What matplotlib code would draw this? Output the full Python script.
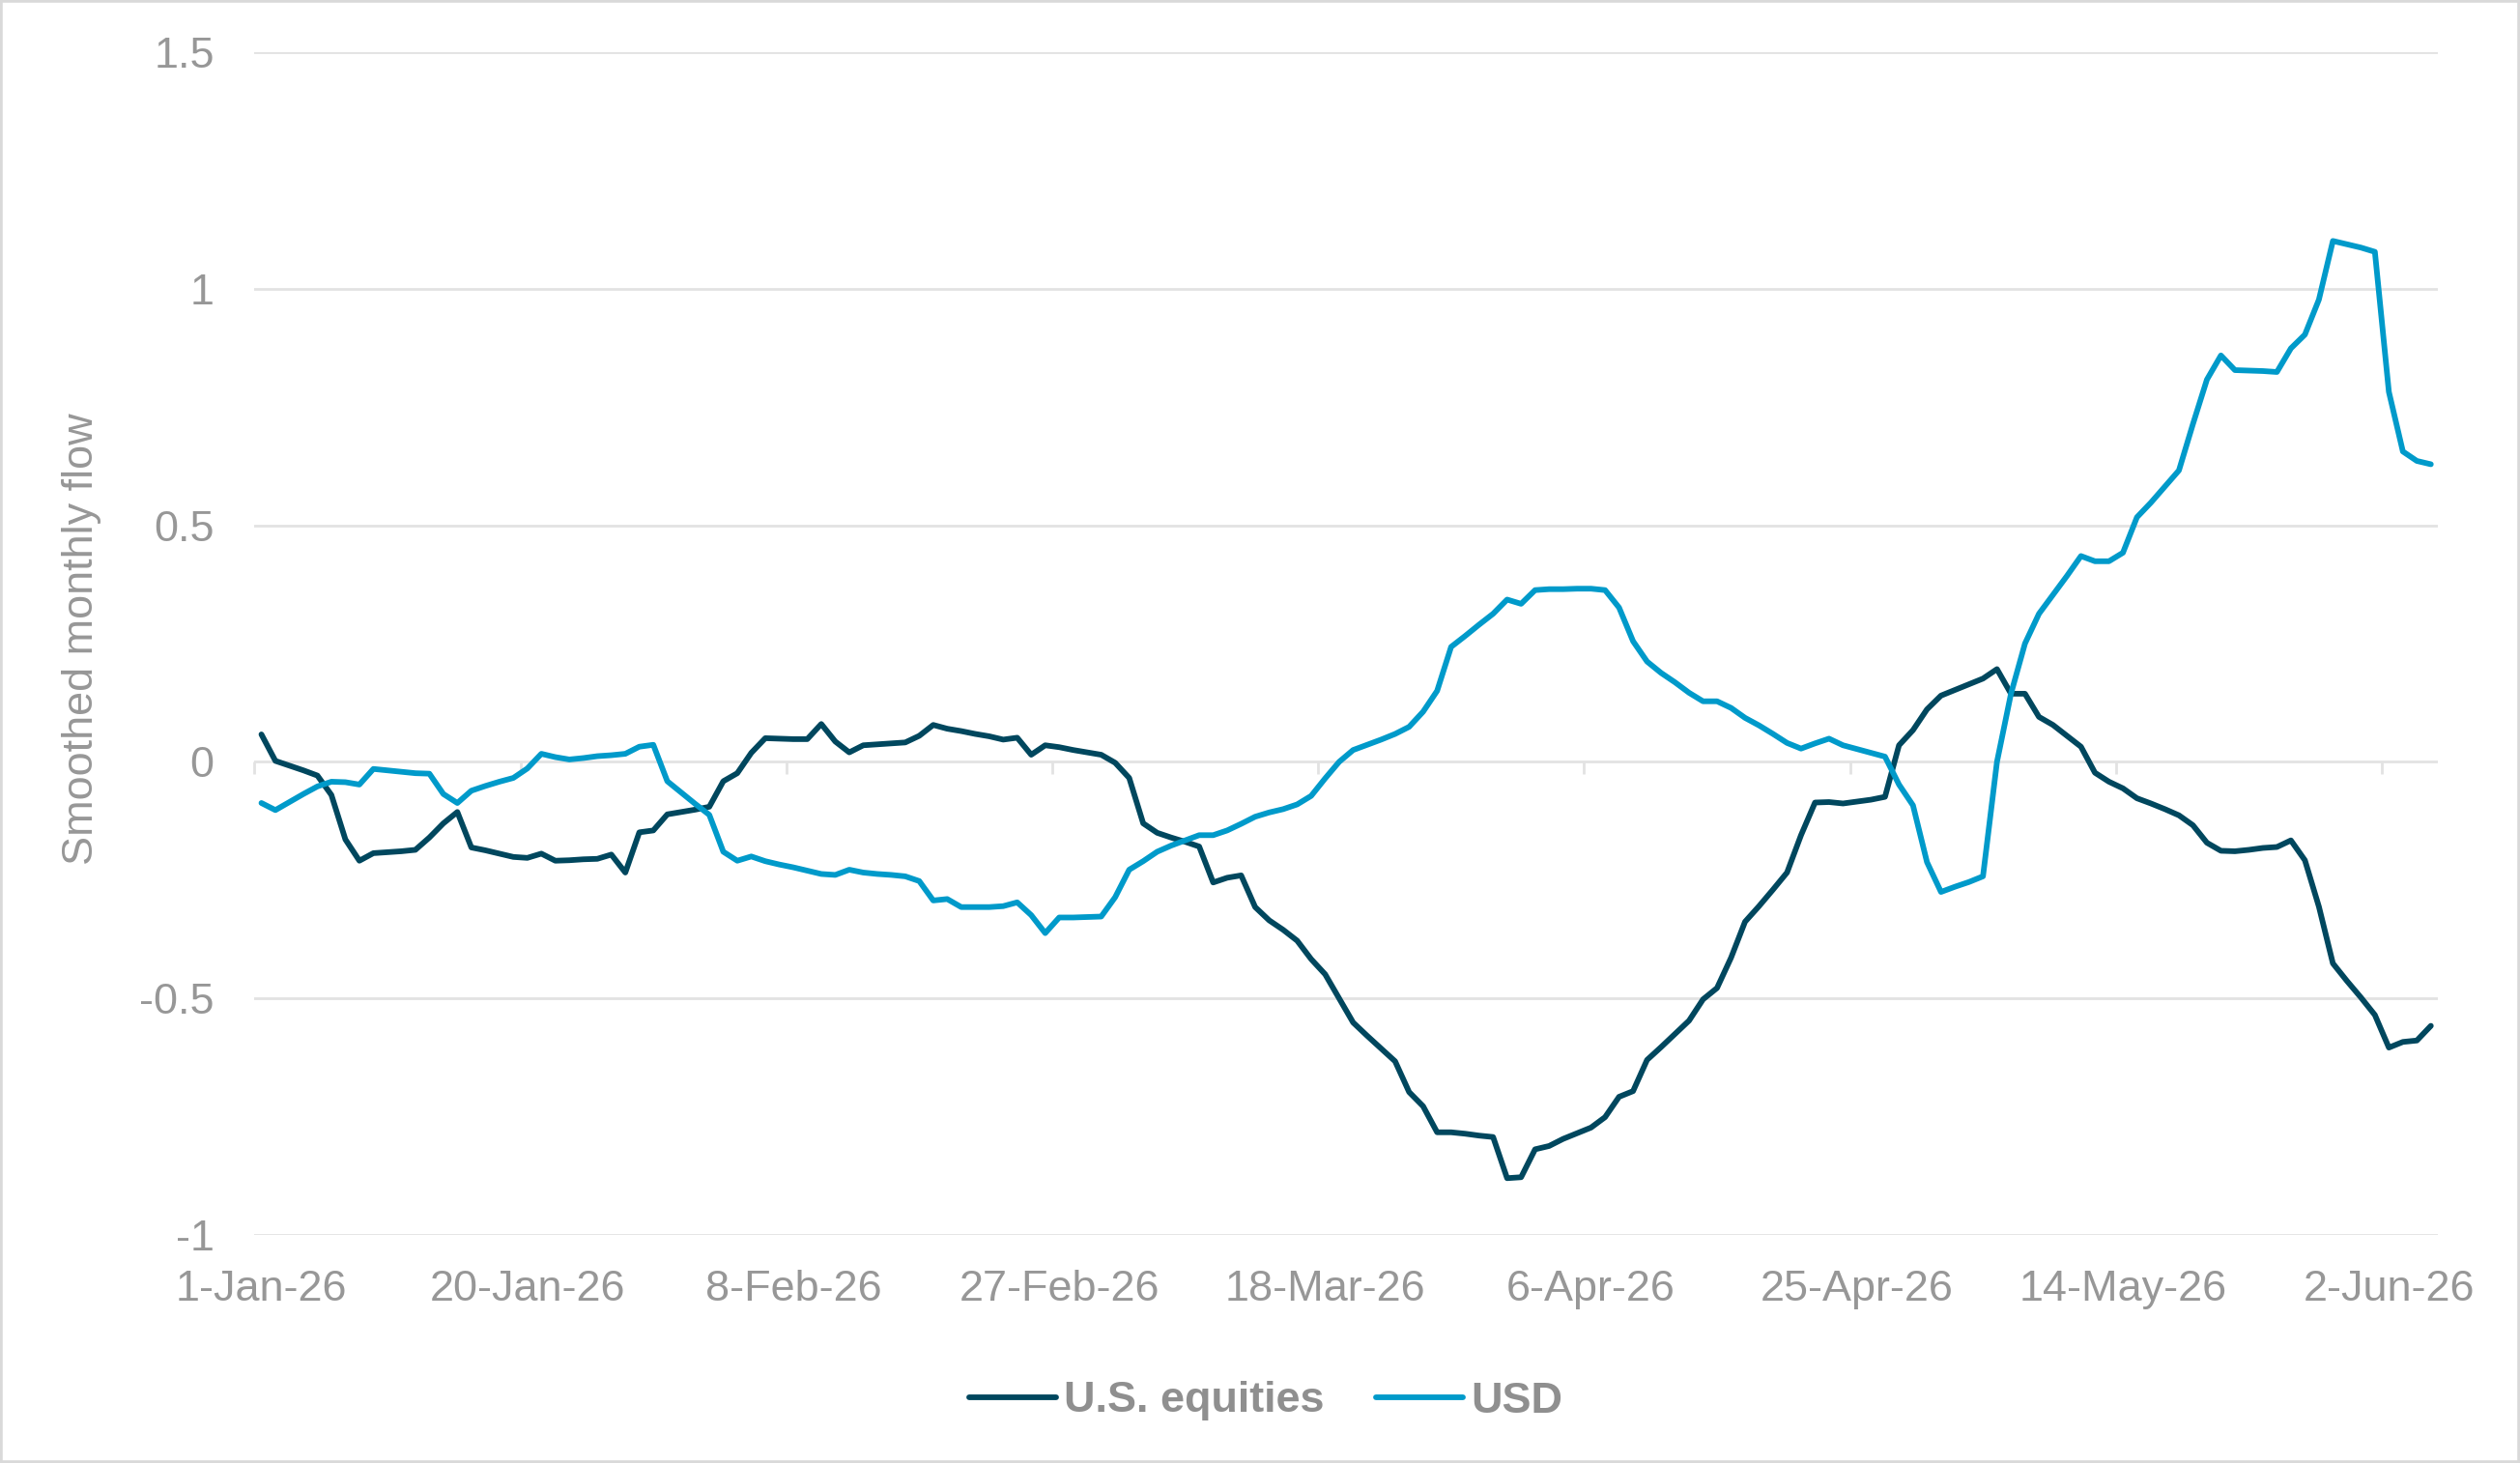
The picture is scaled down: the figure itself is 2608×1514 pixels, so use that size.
import numpy as np
import pandas as pd
import matplotlib
matplotlib.use("Agg")
import matplotlib.pyplot as plt
import matplotlib.dates as mdates
from matplotlib.patches import Rectangle
from matplotlib.lines import Line2D

# ---------------- data ----------------
start_date = "2026-01-01"
end_date = "2026-06-05"

us_equities = [
    0.058, 0.002, -0.008, -0.018, -0.029, -0.070, -0.164, -0.209, -0.193, -0.191,
    -0.189, -0.186, -0.160, -0.130, -0.106, -0.181, -0.187, -0.194, -0.201, -0.203,
    -0.194, -0.209, -0.208, -0.206, -0.205, -0.196, -0.234, -0.149, -0.145, -0.111,
    -0.106, -0.101, -0.095, -0.041, -0.024, 0.019, 0.050, 0.049, 0.048, 0.048,
    0.080, 0.043, 0.020, 0.035, 0.037, 0.039, 0.041, 0.055, 0.078, 0.070,
    0.065, 0.059, 0.054, 0.047, 0.051, 0.015, 0.035, 0.031, 0.025, 0.020,
    0.015, -0.002, -0.034, -0.130, -0.150, -0.160, -0.169, -0.179, -0.255, -0.245,
    -0.240, -0.307, -0.335, -0.355, -0.378, -0.417, -0.449, -0.500, -0.551, -0.579,
    -0.606, -0.633, -0.698, -0.728, -0.783, -0.783, -0.786, -0.790, -0.793, -0.880,
    -0.878, -0.819, -0.812, -0.797, -0.785, -0.773, -0.751, -0.708, -0.696, -0.630,
    -0.603, -0.575, -0.547, -0.502, -0.478, -0.414, -0.338, -0.305, -0.270, -0.234,
    -0.155, -0.086, -0.085, -0.088, -0.084, -0.080, -0.074, 0.035, 0.067, 0.111,
    0.140, 0.152, 0.164, 0.176, 0.196, 0.144, 0.144, 0.095, 0.078, 0.055,
    0.032, -0.023, -0.042, -0.056, -0.077, -0.088, -0.100, -0.113, -0.134, -0.171,
    -0.188, -0.189, -0.186, -0.182, -0.180, -0.166, -0.208, -0.306, -0.426, -0.463,
    -0.498, -0.535, -0.604, -0.592, -0.589, -0.558,
]

usd = [
    -0.087, -0.102, -0.085, -0.068, -0.052, -0.042, -0.043, -0.048, -0.015, -0.018,
    -0.021, -0.024, -0.025, -0.068, -0.087, -0.061, -0.051, -0.042, -0.034, -0.014,
    0.017, 0.010, 0.005, 0.008, 0.012, 0.014, 0.017, 0.032, 0.036, -0.041,
    -0.065, -0.089, -0.112, -0.190, -0.209, -0.200, -0.210, -0.217, -0.223, -0.230,
    -0.237, -0.239, -0.228, -0.234, -0.237, -0.239, -0.242, -0.252, -0.293, -0.290,
    -0.307, -0.307, -0.307, -0.305, -0.297, -0.324, -0.362, -0.329, -0.329, -0.328,
    -0.327, -0.286, -0.228, -0.210, -0.190, -0.177, -0.166, -0.155, -0.155, -0.145,
    -0.131, -0.116, -0.107, -0.100, -0.090, -0.072, -0.035, 0.000, 0.025, 0.036,
    0.047, 0.059, 0.074, 0.106, 0.150, 0.243, 0.266, 0.290, 0.313, 0.343,
    0.334, 0.363, 0.365, 0.365, 0.366, 0.366, 0.363, 0.326, 0.255, 0.212,
    0.188, 0.168, 0.146, 0.128, 0.128, 0.114, 0.093, 0.077, 0.059, 0.040,
    0.028, 0.039, 0.049, 0.035, 0.027, 0.019, 0.011, -0.048, -0.092, -0.212,
    -0.275, -0.264, -0.254, -0.242, 0.000, 0.144, 0.250, 0.313, 0.353, 0.393,
    0.435, 0.424, 0.424, 0.442, 0.517, 0.548, 0.582, 0.616, 0.714, 0.808,
    0.859, 0.828, 0.827, 0.826, 0.824, 0.874, 0.903, 0.977, 1.101, 1.094,
    1.087, 1.078, 0.782, 0.656, 0.636, 0.629,
]

series_names = ["U.S. equities", "USD"]
x_tick_labels = ["1-Jan-26", "20-Jan-26", "8-Feb-26", "27-Feb-26", "18-Mar-26",
                 "6-Apr-26", "25-Apr-26", "14-May-26", "2-Jun-26"]
y_ticks = [-1, -0.5, 0, 0.5, 1, 1.5]
y_tick_labels = ["-1", "-0.5", "0", "0.5", "1", "1.5"]
y_label = "Smoothed monthly flow"

# ---------------- style ----------------
W, H, DPI = 2608, 1514, 100
FONT = ["Liberation Sans", "Arial", "DejaVu Sans"]
TXT = "#979797"
GRID = "#e2e2e2"
C_EQ = "#00475E"
C_USD = "#009ACA"
FS = 32.4
LW = 4.2

plt.rcParams["font.family"] = FONT

dates = pd.date_range(start_date, end_date, freq="D")
x = mdates.date2num(dates.to_pydatetime())
label_pos = mdates.date2num(pd.to_datetime(x_tick_labels, format="%d-%b-%y").to_pydatetime())
tick_marks = label_pos - 0.5

fig = plt.figure(figsize=(W / DPI, H / DPI), dpi=DPI)
ax = fig.add_axes([263.3 / W, 1 - 1278 / H, (2523 - 263.3) / W, (1278 - 54) / H])

ax.plot(x, us_equities, color=C_EQ, lw=LW, solid_joinstyle="round",
        solid_capstyle="round", label=series_names[0], zorder=3)
ax.plot(x, usd, color=C_USD, lw=LW, solid_joinstyle="round",
        solid_capstyle="round", label=series_names[1], zorder=4)

ax.set_xlim(x[0] - 0.5, x[-1] + 0.5)
ax.set_ylim(-1, 1.5)
ax.set_yticks(y_ticks)
ax.set_yticklabels(y_tick_labels)
ax.set_xticks(label_pos)
ax.set_xticklabels(x_tick_labels)
ax.tick_params(axis="x", length=0, pad=26, labelsize=FS, labelcolor=TXT)
ax.tick_params(axis="y", length=0, pad=30, labelsize=FS, labelcolor=TXT)
ax.yaxis.grid(True, color=GRID, lw=2.0, zorder=0)
ax.xaxis.grid(False)
ax.set_axisbelow(True)
for s in ax.spines.values():
    s.set_visible(False)

# category axis crossing at zero with tick marks between date slots
zero_frac = (0 - (-1)) / (1.5 - (-1))
sec = ax.secondary_xaxis(zero_frac)
sec.set_xticks(tick_marks)
sec.tick_params(axis="x", direction="out", length=9.5, width=2.0, color=GRID,
                labelbottom=False, labeltop=False)
for s in sec.spines.values():
    s.set_visible(False)

fig.text(85 / W, 1 - 661 / H, y_label, rotation=90, ha="center", va="center",
         fontsize=FS, color=TXT)

handles = [Line2D([], [], color=C_EQ, lw=LW, solid_capstyle="round"),
           Line2D([], [], color=C_USD, lw=LW, solid_capstyle="round")]
leg = fig.legend(handles, series_names, loc="center", bbox_to_anchor=(1310 / W, 1 - 1450 / H),
                 ncol=2, frameon=False, handlelength=2.0, handletextpad=0.18,
                 columnspacing=1.18, borderaxespad=0,
                 prop={"family": FONT, "weight": "bold", "size": FS})
for t in leg.get_texts():
    t.set_color("#8f8f8f")

fig.add_artist(Rectangle((0, 0), 1, 1, transform=fig.transFigure, fill=False,
                         edgecolor="#d9d9d9", lw=4.0, zorder=10))

fig.savefig("out.png", dpi=DPI, facecolor="white")
